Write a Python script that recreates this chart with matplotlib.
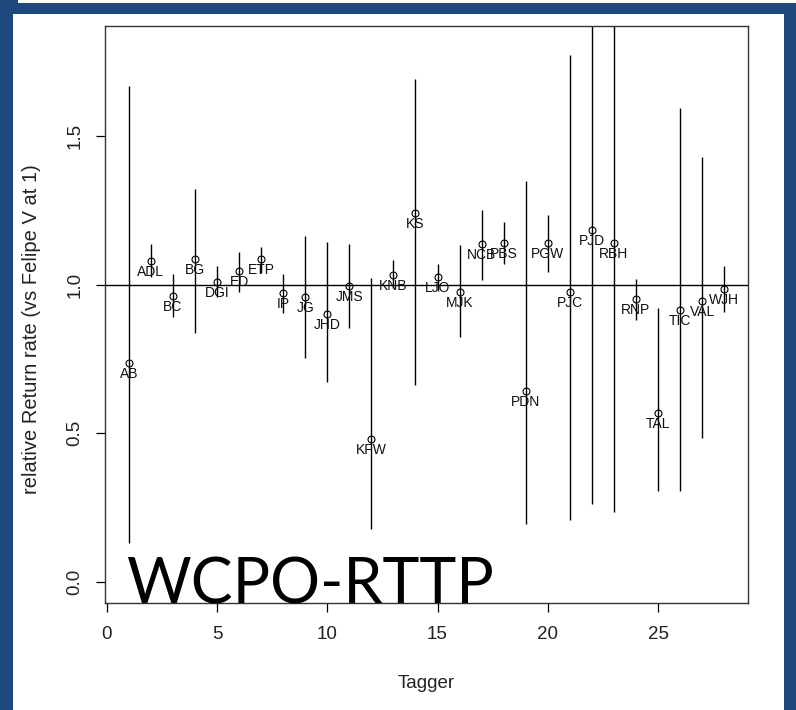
import matplotlib
matplotlib.use('Agg')
import matplotlib.pyplot as plt
from matplotlib.patches import Rectangle
import numpy as np

# data
taggers = ['AB', 'ADL', 'BC', 'BG', 'DGI', 'ED', 'ETP', 'IP', 'JG', 'JHD',
           'JMS', 'KFW', 'KNB', 'KS', 'LJO', 'MJK', 'NCB', 'PBS', 'PDN', 'PGW',
           'PJC', 'PJD', 'RBH', 'RNP', 'TAL', 'TIC', 'VAL', 'WJH']
rate = [0.738, 1.081, 0.964, 1.087, 1.011, 1.047, 1.087, 0.972, 0.960, 0.901,
        0.997, 0.482, 1.034, 1.242, 1.026, 0.975, 1.137, 1.141, 0.643, 1.141,
        0.977, 1.186, 1.141, 0.952, 0.567, 0.916, 0.946, 0.985]
upper = [1.670, 1.137, 1.036, 1.324, 1.062, 1.110, 1.129, 1.036, 1.166, 1.145,
         1.137, 1.023, 1.082, 1.693, 1.070, 1.133, 1.251, 1.212, 1.351, 1.236,
         1.775, 1.950, 1.950, 1.020, 0.923, 1.595, 1.429, 1.062]
lower = [0.131, 1.028, 0.893, 0.837, 0.960, 0.977, 1.040, 0.906, 0.754, 0.671,
         0.854, 0.176, 0.990, 0.662, 0.980, 0.825, 1.017, 1.070, 0.193, 1.042,
         0.209, 0.260, 0.233, 0.882, 0.307, 0.307, 0.484, 0.910]
xticks = [0, 5, 10, 15, 20, 25]
yticks = [0.0, 0.5, 1.0, 1.5]
ytick_labels = ['0.0', '0.5', '1.0', '1.5']

W, H = 796, 710
BLUE = '#1F497D'
plt.rcParams['font.family'] = ['Liberation Sans', 'DejaVu Sans']

fig = plt.figure(figsize=(W / 100, H / 100), dpi=100)
fig.patch.set_facecolor('white')


def px_rect(x0, y0, x1, y1, color):
    # rectangle given in image pixels (y from top)
    r = Rectangle((x0 / W, 1 - y1 / H), (x1 - x0) / W, (y1 - y0) / H,
                  transform=fig.transFigure, color=color, lw=0, zorder=0)
    fig.add_artist(r)


# slide frame
px_rect(0, 3, W, 14, BLUE)
px_rect(0, 0, 18, 14, BLUE)
px_rect(0, 0, 13, H, BLUE)
px_rect(784, 3, W, H, BLUE)

ax = fig.add_axes([105 / W, 1 - 603 / H, (748 - 105) / W, (603 - 26) / H])
x = np.arange(1, len(taggers) + 1)

ax.vlines(x, lower, upper, color='black', lw=1.0)
ax.plot(x, rate, 'o', mfc='none', mec='black', ms=5, mew=0.8)
ax.axhline(1.0, color='black', lw=1.0)
for xi, yi, name in zip(x, rate, taggers):
    ax.annotate(name, (xi, yi), xytext=(0, -11), textcoords='offset pixels',
                ha='center', va='center', fontsize=10, color='#111111')

ax.set_xlim(-0.08, 29.08)
ax.set_ylim(-0.072, 1.872)
ax.set_xticks(xticks)
ax.set_xticklabels([str(t) for t in xticks])
ax.set_yticks(yticks)
ax.set_yticklabels(ytick_labels, rotation=90, va='center')
ax.tick_params(direction='out', length=6.5, width=0.9, labelsize=13.5,
               color='black', labelcolor='#222222')
ax.tick_params(axis='x', pad=10)
ax.tick_params(axis='y', pad=9)
for s in ax.spines.values():
    s.set_linewidth(1.0)
    s.set_color('#333333')

ax.set_xlabel('Tagger', fontsize=13.5, color='#222222')
ax.xaxis.set_label_coords(0.5, -0.125)
ax.set_ylabel('relative Return rate (vs Felipe V at 1)', fontsize=14.5,
              color='#222222')
ax.yaxis.set_label_coords(-0.0995, 0.475)

fig.text(126 / W, 1 - 603 / H, 'WCPO-RTTP', family='Lato', fontsize=45,
         color='black', ha='left', va='baseline', zorder=5)

fig.savefig('out.png', dpi=100)
